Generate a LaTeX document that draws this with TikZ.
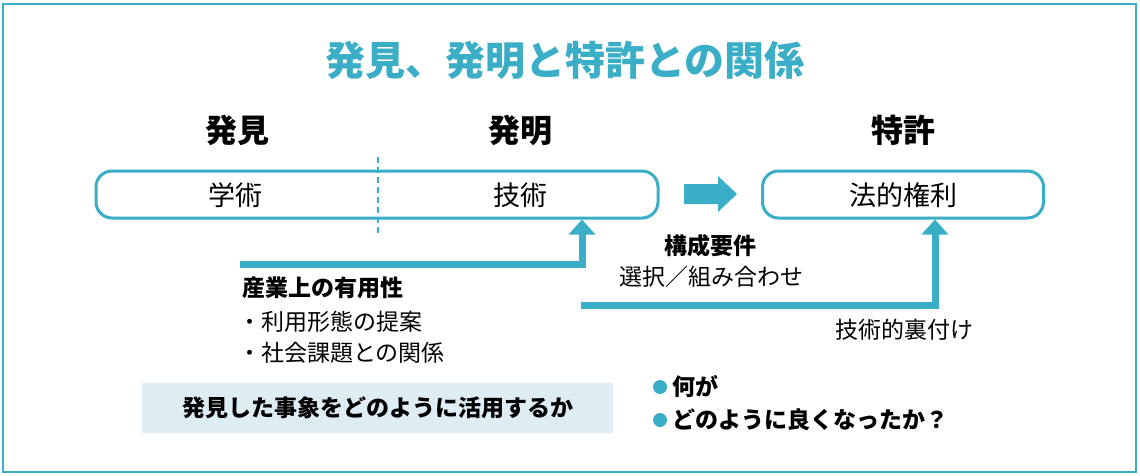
\documentclass[tikz,border=0pt]{standalone}
\usepackage{fontspec}
\setmainfont{Noto Sans CJK JP}
\usetikzlibrary{arrows.meta,positioning}
\definecolor{sea}{HTML}{3AAEC6}
\definecolor{paleblue}{HTML}{DEEDF3}

\begin{document}
\begin{tikzpicture}[
            x=1pt, y=-1pt,
            title/.style={font=\fontsize{40}{40}\selectfont\bfseries, text=sea, inner sep=0pt},
            head/.style={font=\fontsize{32}{32}\selectfont\bfseries, inner sep=0pt},
            frame/.style={draw=sea, line width=3pt, rounded corners=16pt, minimum height=47pt},
            big/.style={font=\fontsize{27}{27}\selectfont, inner sep=0pt},
            txt/.style={font=\fontsize{23}{23}\selectfont, inner sep=0pt},
            txtb/.style={font=\fontsize{23}{23}\selectfont\bfseries, inner sep=0pt},
            dot/.style={circle, fill=sea, minimum size=14pt, inner sep=0pt},
            flow/.style={draw=sea, line width=7pt, -{Triangle[width=26pt,length=15pt]}}
        ]
        \fill[white] (0,0) rectangle (1140,476);
        \draw[sea, line width=2pt] (3,4) rectangle (1136,472);
        \useasboundingbox (0,0) rectangle (1140,476);

        \node[title] (title) at (565,60) {発見、発明と特許との関係};
        \node[head] (discovery) at (237,130) {発見};
        \node[head] (invention) at (520,130) {発明};
        \node[head] (patent) at (903,130) {特許};

        % the two rounded boxes
        \node[frame, minimum width=562pt] (field) at (377,194.5) {};
        \node[frame, minimum width=281pt] (right) at (903,194.5) {};
        \node[big] (academic) at (235,195) {学術};
        \node[big] (tech) at (520,195) {技術};
        \node[big] (legal) at (903,195) {法的権利};
        \draw[sea, line width=1.5pt, dash pattern=on 6pt off 4pt] (378,157) -- (378,233);

        % block arrow
        \coordinate (go) at (684,194);
        \fill[sea] (go) -- ++(0,-10) -- ++(34,0) -- ++(0,-8) -- ++(19,18)
            -- ++(-19,18) -- ++(0,-8) -- ++(-34,0) -- cycle;

        % elbow arrows
        \coordinate (usestart) at (240,264);
        \coordinate (backstart) at (581,305);
        \draw[flow] (usestart) -| ([xshift=205pt]field.south);
        \draw[flow] (backstart) -| ([xshift=32pt]right.south);

        \node[txtb] (elements) at (710,246) {構成要件};
        \node[txt] (choice) at (711,277) {選択／組み合わせ};
        \node[txt] (backing) at (904,330) {技術的裏付け};

        \node[txtb, anchor=west] (utility) at (242,288) {産業上の有用性};
        \node[txt, anchor=west] (use1) at (238,322) {・利用形態の提案};
        \node[txt, anchor=west] (use2) at (238,353) {・社会課題との関係};

        \node[txtb, fill=paleblue, minimum width=471pt, minimum height=50pt] (question) at (377.5,408) {発見した事象をどのように活用するか};

        \node[dot] (b1) at (660,387) {};
        \node[dot] (b2) at (660,420) {};
        \node[txtb, right=5pt of b1] (what) {何が};
        \node[txtb, right=5pt of b2] (how) {どのように良くなったか？};
    \end{tikzpicture}
\end{document}
